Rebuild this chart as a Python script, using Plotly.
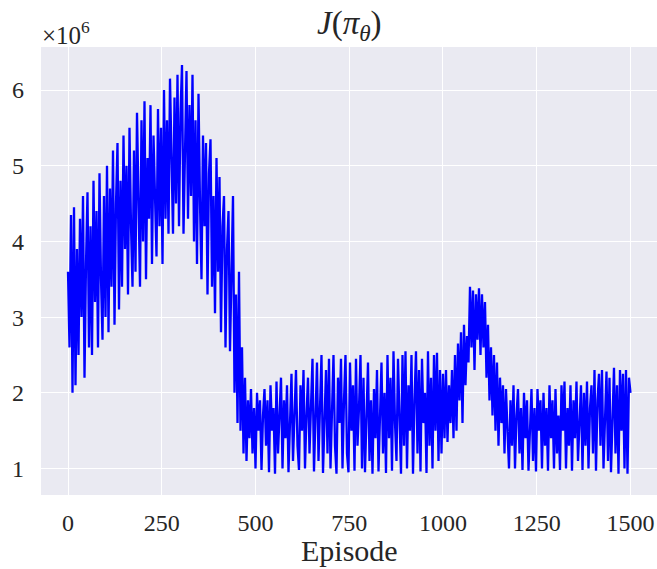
import plotly.graph_objects as go

# J(pi_theta) every 4 episodes, in units of 1e6
episode_step = 4
j_values_1e6 = [
    # episodes 0-96
    3.6, 2.6, 4.35, 2.0, 4.45, 2.1, 3.9, 2.5, 4.3, 3.0, 4.6, 2.2, 3.7, 4.65, 2.6, 4.2, 2.5, 4.8, 3.2, 4.4, 2.6, 4.9, 3.5, 2.7, 4.6,
    # 100-196
    3.0, 5.0, 2.8, 4.7, 3.4, 5.2, 2.9, 4.5, 5.3, 3.1, 4.8, 3.4, 5.4, 3.9, 5.0, 3.3, 5.5, 4.2, 3.4, 5.2, 3.6, 5.7, 4.4, 3.4, 5.6,
    # 200-296
    4.0, 5.85, 3.5, 5.1, 4.3, 5.8, 3.7, 5.4, 4.6, 3.8, 5.75, 4.2, 5.5, 3.7, 6.0, 4.3, 5.6, 4.1, 6.15, 4.8, 4.1, 5.9, 4.5, 6.2, 4.2,
    # 300-396
    5.7, 6.33, 4.1, 5.5, 6.25, 4.3, 5.8, 4.6, 6.2, 4.0, 5.6, 3.7, 5.95, 4.5, 3.5, 5.4, 4.2, 5.3, 3.3, 4.9, 5.35, 3.4, 4.6, 3.05, 5.1,
    # 400-496
    3.6, 4.85, 2.8, 4.2, 4.6, 2.6, 3.9, 4.4, 2.55, 3.5, 4.6, 2.0, 3.3, 1.6, 3.6, 1.5, 2.6, 1.2, 2.2, 1.1, 1.9, 1.4, 2.05, 1.2, 1.8,
    # 500-596
    1.0, 2.0, 1.5, 1.9, 0.98, 1.7, 2.05, 1.3, 1.9, 0.95, 2.1, 1.5, 1.8, 0.93, 2.15, 1.2, 1.7, 2.2, 1.0, 1.9, 1.4, 2.1, 0.95, 1.6, 2.25,
    # 600-696
    1.1, 1.8, 2.3, 1.3, 0.98, 2.1, 1.5, 2.3, 1.0, 1.7, 2.2, 1.2, 1.9, 2.45, 0.96, 1.6, 2.4, 1.1, 2.0, 2.5, 0.94, 1.5, 2.3, 1.2, 2.45,
    # 700-796
    1.0, 1.8, 2.5, 1.3, 0.93, 2.2, 1.6, 2.45, 1.0, 1.9, 2.5, 1.2, 0.95, 2.4, 1.5, 2.1, 0.97, 2.45, 1.3, 1.8, 2.5, 1.0, 2.2, 0.95, 1.7,
    # 800-896
    2.4, 1.1, 1.9, 0.93, 2.05, 1.4, 2.3, 0.96, 1.7, 2.4, 1.2, 2.0, 0.94, 2.5, 1.4, 2.2, 0.97, 2.55, 1.6, 1.1, 2.45, 1.8, 0.93, 2.5, 1.3,
    # 900-996
    2.55, 1.0, 2.1, 1.5, 2.5, 0.93, 1.9, 2.55, 1.2, 2.3, 0.96, 2.45, 1.6, 2.0, 0.94, 2.55, 1.3, 2.2, 1.0, 2.5, 1.5, 2.53, 1.1, 2.3, 1.2,
    # 1000-1096
    2.25, 1.4, 2.3, 1.35, 2.1, 1.6, 2.3, 1.4, 2.5, 1.5, 2.65, 1.9, 2.8, 1.6, 2.9, 2.1, 2.75, 2.4, 3.4, 2.6, 3.35, 2.3, 3.3, 2.7, 3.38,
    # 1100-1196
    2.5, 3.3, 2.6, 3.2, 2.2, 2.9, 1.9, 2.6, 1.7, 2.5, 1.5, 2.4, 1.3, 2.2, 1.6, 2.1, 1.2, 2.05, 1.5, 1.0, 1.9, 1.3, 2.1, 1.0, 1.7,
    # 1200-1296
    2.05, 1.2, 1.8, 0.98, 2.0, 1.4, 1.9, 0.97, 1.6, 2.05, 1.1, 1.8, 0.96, 2.05, 1.5, 1.9, 1.0, 2.0, 1.3, 1.8, 0.97, 2.1, 1.4, 1.9, 1.0,
    # 1300-1396
    2.05, 1.2, 1.7, 0.98, 2.1, 1.5, 2.15, 1.0, 1.8, 1.3, 2.1, 0.97, 1.9, 1.4, 2.15, 1.1, 1.7, 2.1, 0.98, 2.0, 1.3, 2.15, 1.0, 1.8, 2.1,
    # 1400-1496
    1.2, 2.3, 0.97, 1.9, 2.25, 1.3, 2.3, 1.0, 1.7, 2.28, 1.1, 2.2, 0.95, 1.8, 2.33, 1.2, 2.1, 0.93, 2.3, 1.5, 2.25, 1.0, 2.3, 0.93, 2.2,
    # 1500
    2.0,
]
episodes = [i * episode_step for i in range(len(j_values_1e6))]

x_ticks = [0, 250, 500, 750, 1000, 1250, 1500]
y_ticks = [1, 2, 3, 4, 5, 6]

FONT = "Liberation Serif"
W, H = 657, 569
ML, MR, MT, MB = 41, 0, 47, 74
PW, PH = W - ML - MR, H - MT - MB


def px_x(xp):
    return (xp - ML) / PW


def px_y(yp):
    return (H - MB - yp) / PH


fig = go.Figure()
fig.add_trace(go.Scatter(
    x=episodes, y=j_values_1e6, mode="lines",
    line=dict(color="#0000FF", width=2.3),
    showlegend=False, hoverinfo="skip",
))

fig.update_layout(
    width=W, height=H,
    margin=dict(l=ML, r=MR, t=MT, b=MB, autoexpand=False),
    paper_bgcolor="white",
    plot_bgcolor="#EAEAF2",
    font=dict(family=FONT, color="#262626", size=24),
    xaxis=dict(
        range=[-72, 1570.7], tickvals=x_ticks, ticktext=[str(t) for t in x_ticks],
        showgrid=True, gridcolor="white", gridwidth=1.3, zeroline=False,
        showline=False, ticks="", automargin=False,
        tickfont=dict(family=FONT, size=24, color="#262626"),
        ticklabelstandoff=11,
    ),
    yaxis=dict(
        range=[0.65, 6.568], tickvals=y_ticks, ticktext=[str(t) for t in y_ticks],
        showgrid=True, gridcolor="white", gridwidth=1.3, zeroline=False,
        showline=False, ticks="", automargin=False,
        tickfont=dict(family=FONT, size=24, color="#262626"),
        ticklabelstandoff=16,
    ),
    annotations=[
        dict(text="<i>J</i>(<i>π<sub>θ</sub></i>)", x=0.5, y=px_y(25),
             xref="paper", yref="paper", xanchor="center", yanchor="middle",
             showarrow=False, font=dict(family=FONT, size=33, color="#262626")),
        dict(text="Episode", x=0.5, y=px_y(550),
             xref="paper", yref="paper", xanchor="center", yanchor="middle",
             showarrow=False, font=dict(family=FONT, size=30, color="#262626")),
        dict(text="×10<sup>6</sup>", x=px_x(40), y=px_y(33),
             xref="paper", yref="paper", xanchor="left", yanchor="middle",
             showarrow=False, font=dict(family=FONT, size=25, color="#262626")),
    ],
)

fig.write_html(
    "out.html",
    config={"displayModeBar": False},
    post_script="document.body.style.margin='0';document.body.style.padding='0';",
)
